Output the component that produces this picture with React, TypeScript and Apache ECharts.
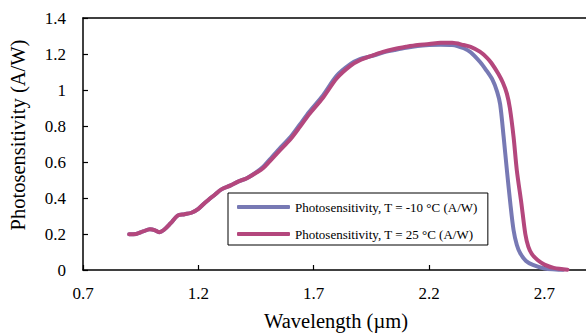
import React, { useEffect, useRef } from "react";
import * as echarts from "echarts";

const xTicks = ["0.7", "1.2", "1.7", "2.2", "2.7"];
const yTicks = ["0", "0.2", "0.4", "0.6", "0.8", "1", "1.2", "1.4"];

const seriesNames = [
  "Photosensitivity, T = -10 °C (A/W)",
  "Photosensitivity, T = 25 °C (A/W)",
];

const wavelengthCold = [
  0.9, 0.93, 0.96, 0.99, 1.01, 1.03, 1.05, 1.08, 1.11, 1.14, 1.17, 1.2, 1.23, 1.27, 1.3, 1.34, 1.37, 1.41, 1.45, 1.48,
  1.51, 1.55, 1.6, 1.64, 1.68, 1.74, 1.8, 1.86, 1.9, 1.95, 2.0, 2.05, 2.1, 2.15, 2.2, 2.25, 2.3, 2.35, 2.38, 2.42,
  2.447, 2.475, 2.495, 2.508, 2.523, 2.537, 2.552, 2.566, 2.58, 2.595, 2.62, 2.65, 2.7, 2.75, 2.78,
];
const valuesCold = [
  0.198, 0.2, 0.214, 0.226, 0.222, 0.21, 0.222, 0.26, 0.302, 0.31, 0.318, 0.34, 0.375, 0.417, 0.448, 0.47, 0.49, 0.51,
  0.542, 0.572, 0.615, 0.672, 0.74, 0.808, 0.878, 0.97, 1.08, 1.145, 1.172, 1.188, 1.208, 1.222, 1.235, 1.245, 1.25,
  1.252, 1.25, 1.232, 1.21, 1.157, 1.111, 1.056, 0.99, 0.92, 0.74, 0.556, 0.37, 0.222, 0.14, 0.093, 0.05, 0.028, 0.008,
  0.003, 0.001,
];

const wavelengthWarm = [
  0.9, 0.93, 0.96, 0.99, 1.01, 1.03, 1.05, 1.08, 1.11, 1.14, 1.17, 1.2, 1.23, 1.27, 1.3, 1.34, 1.37, 1.41, 1.45, 1.48,
  1.51, 1.55, 1.6, 1.64, 1.68, 1.74, 1.8, 1.86, 1.9, 1.95, 2.0, 2.05, 2.1, 2.15, 2.2, 2.25, 2.3, 2.35, 2.38, 2.42,
  2.45, 2.47, 2.5, 2.52, 2.537, 2.55, 2.566, 2.58, 2.6, 2.617, 2.63, 2.645, 2.67, 2.7, 2.74, 2.8,
];
const valuesWarm = [
  0.198, 0.2, 0.214, 0.226, 0.222, 0.21, 0.222, 0.26, 0.302, 0.31, 0.318, 0.34, 0.375, 0.417, 0.448, 0.47, 0.49, 0.51,
  0.54, 0.565, 0.605, 0.66, 0.728, 0.795, 0.865, 0.957, 1.065, 1.135, 1.165, 1.19, 1.212, 1.228, 1.24, 1.25, 1.255,
  1.262, 1.262, 1.25, 1.24, 1.213, 1.18, 1.15, 1.09, 1.04, 0.98, 0.9, 0.74, 0.556, 0.37, 0.2, 0.13, 0.09, 0.055, 0.03,
  0.012, 0.002,
];

const FONT = "'Liberation Serif', 'Times New Roman', 'DejaVu Serif', serif";

export default function App() {
  const ref = useRef<HTMLDivElement>(null);
  useEffect(() => {
    if (!ref.current) return;
    const chart = echarts.init(ref.current, undefined, { renderer: "svg" });
    const cold = wavelengthCold.map((x, i) => [x, valuesCold[i]]);
    const warm = wavelengthWarm.map((x, i) => [x, valuesWarm[i]]);
    const xMin = parseFloat(xTicks[0]);
    const axisLine = { show: true, lineStyle: { color: "#000", width: 1.5 } };
    chart.setOption({
      animation: false,
      backgroundColor: "#fff",
      textStyle: { fontFamily: FONT },
      grid: { left: 83, top: 18, right: 0, bottom: 63, containLabel: false },
      xAxis: [
        {
          type: "value",
          min: xMin,
          max: 2.88,
          interval: 0.5,
          axisLine,
          axisTick: { show: true, inside: true, length: 5, lineStyle: { color: "#000", width: 1.2 } },
          axisLabel: {
            showMaxLabel: false,
            margin: 15,
            fontFamily: FONT,
            fontSize: 17,
            color: "#000",
            formatter: (v: number) => {
              const s = v.toFixed(1);
              return xTicks.includes(s) ? s : "";
            },
          },
          splitLine: { show: false },
        },
        {
          type: "value",
          position: "top",
          min: xMin,
          max: 2.88,
          interval: 0.5,
          axisLine,
          axisTick: { show: false },
          axisLabel: { show: false },
          splitLine: { show: false },
        },
      ],
      yAxis: {
        type: "value",
        min: 0,
        max: 1.4,
        interval: 0.2,
        axisLine,
        axisTick: { show: true, inside: true, length: 5, lineStyle: { color: "#000", width: 1.2 } },
        axisLabel: {
          margin: 17,
          fontFamily: FONT,
          fontSize: 17,
          color: "#000",
          formatter: (v: number) => {
            const i = Math.round(v / 0.2);
            return yTicks[i] ?? "";
          },
        },
        splitLine: { show: false },
      },
      legend: {
        orient: "vertical",
        left: 228,
        top: 193,
        padding: [7, 10, 4, 9],
        itemGap: 13,
        itemWidth: 53,
        itemHeight: 4,
        icon: "roundRect",
        borderColor: "#000",
        borderWidth: 1,
        backgroundColor: "#fff",
        textStyle: { fontFamily: FONT, fontSize: 13, color: "#000", lineHeight: 14 },
        data: seriesNames,
      },
      graphic: [
        {
          type: "text",
          x: 336,
          y: 321,
          style: {
            text: "Wavelength (µm)",
            fontFamily: FONT,
            fontSize: 20.5,
            fill: "#000",
            align: "center",
            verticalAlign: "middle",
          },
        },
        {
          type: "text",
          x: 18,
          y: 135,
          rotation: Math.PI / 2,
          style: {
            text: "Photosensitivity (A/W)",
            fontFamily: FONT,
            fontSize: 20.5,
            fill: "#000",
            align: "center",
            verticalAlign: "middle",
          },
        },
      ],
      series: [
        {
          name: seriesNames[0],
          type: "line",
          data: cold,
          smooth: 0.3,
          showSymbol: false,
          symbol: "none",
          lineStyle: { color: "#7779b4", width: 4, cap: "round", join: "round" },
          itemStyle: { color: "#7779b4" },
        },
        {
          name: seriesNames[1],
          type: "line",
          data: warm,
          smooth: 0.3,
          showSymbol: false,
          symbol: "none",
          lineStyle: { color: "#b4477d", width: 4, cap: "round", join: "round" },
          itemStyle: { color: "#b4477d" },
        },
      ],
    });
    return () => chart.dispose();
  }, []);
  return <div ref={ref} style={{ width: 586, height: 333, position: "absolute", left: 0, top: 0 }} />;
}
